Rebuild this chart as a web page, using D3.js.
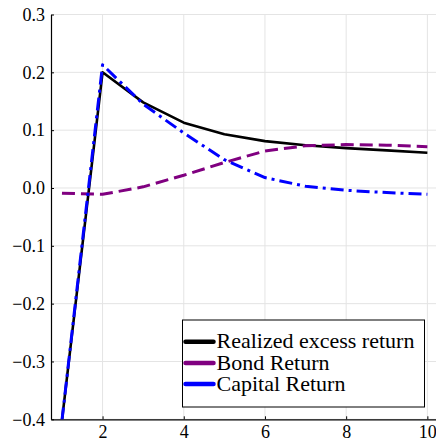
<!DOCTYPE html>
<html>
<head>
<meta charset="utf-8">
<script src="https://cdn.jsdelivr.net/npm/d3@7"></script>
<style>
  body { margin: 0; background: #fff; }
</style>
</head>
<body>
<div id="chart"></div>
<script>
// data
const periods = [1, 2, 3, 4, 5, 6, 7, 8, 9, 10];
const realizedExcess = [-0.402, 0.200, 0.148, 0.113, 0.093, 0.081, 0.074, 0.069, 0.065, 0.061];
const bondReturn = [-0.009, -0.011, 0.002, 0.022, 0.044, 0.064, 0.073, 0.075, 0.074, 0.0715];
const capitalReturn = [-0.402, 0.213, 0.145, 0.095, 0.049, 0.018, 0.003, -0.004, -0.008, -0.011];
const xTicks = [2, 4, 6, 8, 10];
const yTicks = [-0.4, -0.3, -0.2, -0.1, 0.0, 0.1, 0.2, 0.3];

const seriesList = [
    { name: 'Realized excess return', values: realizedExcess, color: '#000000', dash: null, width: 2.6 },
    { name: 'Bond Return', values: bondReturn, color: '#800080', dash: '13,6', width: 3 },
    { name: 'Capital Return', values: capitalReturn, color: '#0000ff', dash: '13,5,3,5', width: 3 }
];

const font = 'Liberation Serif';
const width = 436;
const height = 441;
const margin = { top: 14.5, left: 51, bottom: 441 - 419.3 };

const x = d3.scaleLinear().domain([0.73, 10.27]).range([margin.left, margin.left + 9.54 * 40.6]);
const y = d3.scaleLinear().domain([-0.4, 0.3]).range([height - margin.bottom, margin.top]);

const svg = d3.select('#chart').append('svg')
    .attr('width', width)
    .attr('height', height);

svg.append('defs').append('clipPath').attr('id', 'plotClip')
    .append('rect')
    .attr('x', x.range()[0])
    .attr('y', y.range()[1])
    .attr('width', x.range()[1] - x.range()[0])
    .attr('height', y.range()[0] - y.range()[1]);

// grid
svg.append('g').selectAll('line').data(xTicks).enter().append('line')
    .attr('x1', d => x(d)).attr('x2', d => x(d))
    .attr('y1', y.range()[0]).attr('y2', y.range()[1])
    .attr('stroke', '#e4e4e4').attr('stroke-width', 1);
svg.append('g').selectAll('line').data(yTicks).enter().append('line')
    .attr('x1', x.range()[0]).attr('x2', x.range()[1])
    .attr('y1', d => y(d)).attr('y2', d => y(d))
    .attr('stroke', '#e4e4e4').attr('stroke-width', 1);

// axes
const fmt = d => d3.format('.1f')(d).replace('-', '\u2212');

const xAxis = svg.append('g')
    .attr('transform', `translate(0,${y.range()[0]})`)
    .call(d3.axisBottom(x).tickValues(xTicks).tickSizeInner(-3).tickSizeOuter(0).tickPadding(6).tickFormat(d3.format('d')));
const yAxis = svg.append('g')
    .attr('transform', `translate(${x.range()[0]},0)`)
    .call(d3.axisLeft(y).tickValues(yTicks).tickSizeInner(-3).tickSizeOuter(0).tickPadding(6).tickFormat(fmt));

[xAxis, yAxis].forEach(ax => {
    ax.attr('font-family', font).attr('font-size', 18);
    ax.select('.domain').attr('stroke', '#000').attr('stroke-width', 1.2);
    ax.selectAll('.tick line').attr('stroke', '#000').attr('stroke-width', 1);
    ax.selectAll('.tick text').attr('fill', '#000');
});

// lines
const line = d3.line()
    .x((d, i) => x(periods[i]))
    .y(d => y(d));

const plot = svg.append('g').attr('clip-path', 'url(#plotClip)');
seriesList.forEach(s => {
    plot.append('path')
        .datum(s.values)
        .attr('fill', 'none')
        .attr('stroke', s.color)
        .attr('stroke-width', s.width)
        .attr('stroke-dasharray', s.dash)
        .attr('stroke-linejoin', 'round')
        .attr('d', line);
});

// legend
const legend = svg.append('g').attr('transform', 'translate(182.5,320)');
legend.append('rect')
    .attr('width', 242).attr('height', 87)
    .attr('fill', '#fff').attr('stroke', '#000').attr('stroke-width', 1);

seriesList.forEach((s, i) => {
    const rowY = 21.7 + i * 21.2;
    legend.append('line')
        .attr('x1', 3).attr('x2', 31)
        .attr('y1', rowY).attr('y2', rowY)
        .attr('stroke', s.color).attr('stroke-width', 4.5)
        .attr('stroke-linecap', 'round');
    legend.append('text')
        .attr('x', 34).attr('y', rowY + 6.7)
        .attr('font-family', font)
        .attr('font-size', 22)
        .attr('fill', '#000')
        .text(s.name);
});
</script>
</body>
</html>
